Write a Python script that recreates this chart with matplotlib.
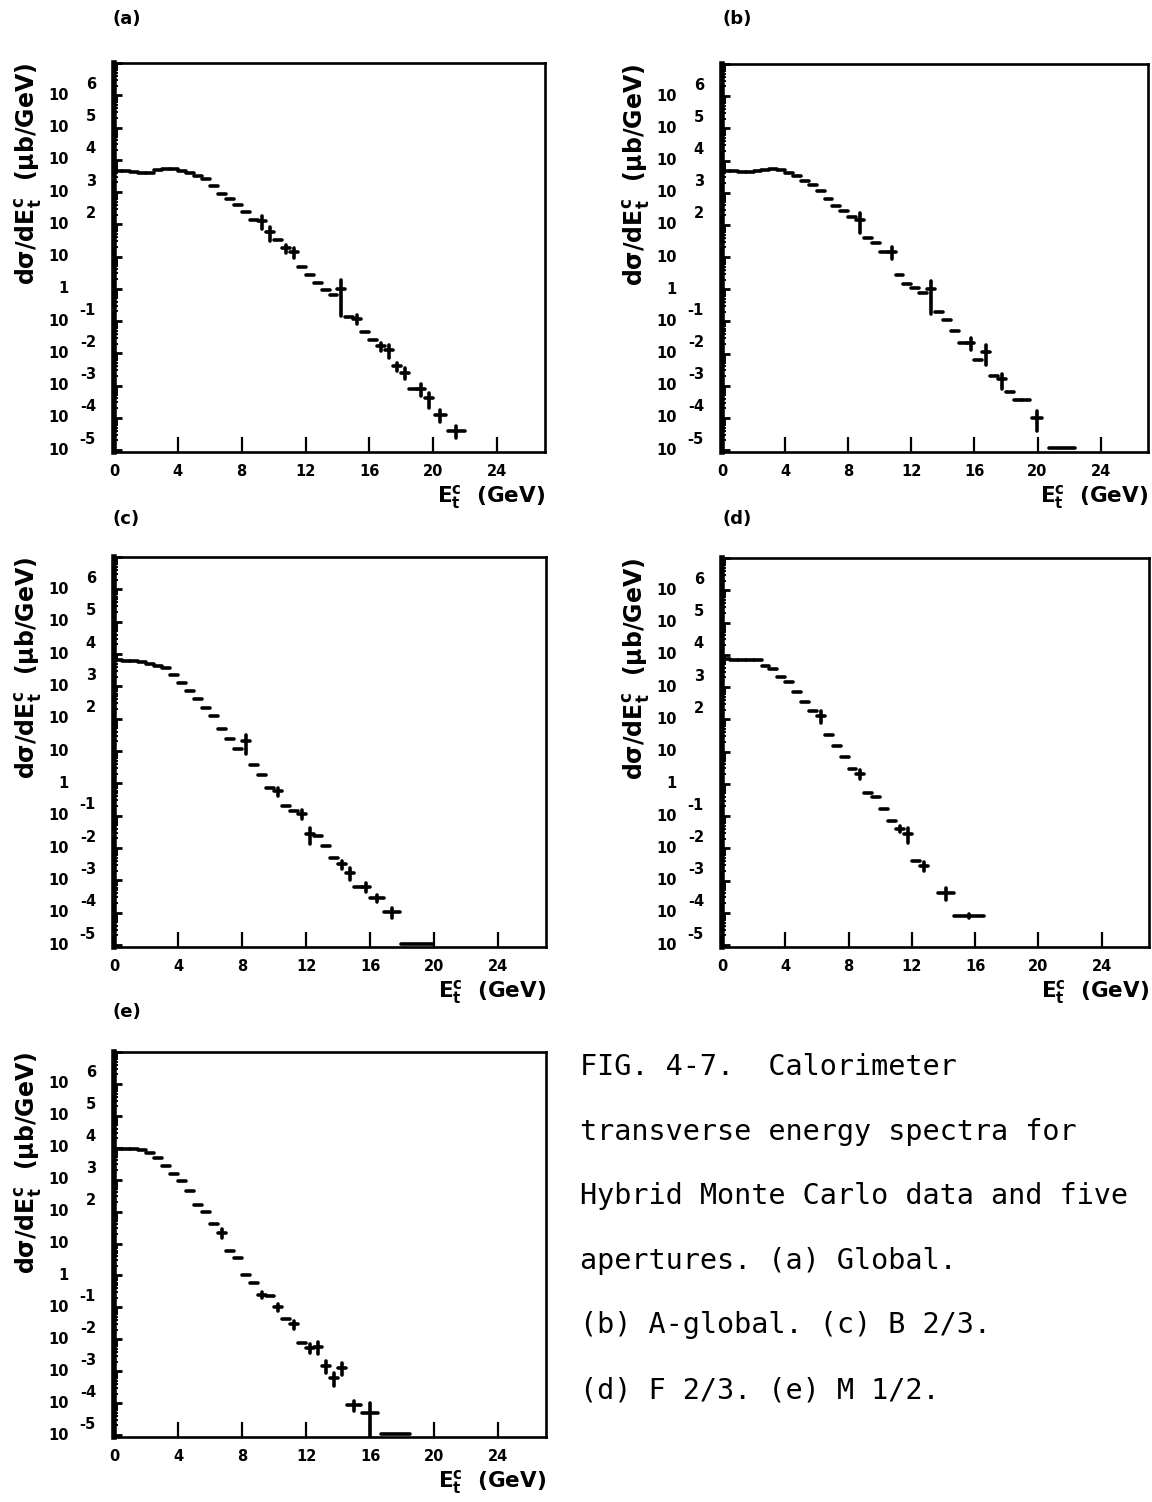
import matplotlib
matplotlib.use("Agg")
import matplotlib.pyplot as plt
from matplotlib.ticker import LogLocator, NullFormatter, FixedLocator
import numpy as np

plt.rcParams["mathtext.fontset"] = "dejavusans"
plt.rcParams["font.family"] = ["DejaVu Sans"]

# ---------------------------------------------------------------------------
# Transverse energy spectra, d(sigma)/dE_t^c in microbarn/GeV, per bin.
# E_* : bin centre (GeV), FLUX_* : bin content, REL_* : relative error,
# HALF_* : half bin width (GeV)
# ---------------------------------------------------------------------------

# (a) Global
E_A = [0.25, 0.75, 1.25, 1.75, 2.25, 2.75, 3.25, 3.75, 4.25, 4.75, 5.25, 5.75,
       6.25, 6.75, 7.25, 7.75, 8.25, 8.75, 9.25, 9.75, 10.25, 10.75, 11.25,
       11.75, 12.25, 12.75, 13.25, 13.75, 14.25, 14.75, 15.25, 15.75, 16.25,
       16.75, 17.25, 17.75, 18.25, 18.75, 19.25, 19.75, 20.45, 21.45]
FLUX_A = [4.57e3, 4.57e3, 4.17e3, 3.89e3, 3.98e3, 4.79e3, 5.25e3, 5.13e3,
          4.47e3, 3.8e3, 3.16e3, 2.51e3, 1.58e3, 891, 603, 398, 240, 132, 126,
          56.2, 31.6, 17.8, 14.1, 4.79, 2.63, 1.48, 0.912, 0.631, 1.0, 0.132,
          0.117, 0.0468, 0.0251, 0.0166, 0.0126, 3.98e-3, 2.51e-3, 7.94e-4,
          7.94e-4, 3.98e-4, 1.26e-4, 3.98e-5]
REL_A = [0, 0, 0, 0, 0, 0, 0, 0, 0, 0, 0, 0, 0, 0, 0, 0, 0, 0, 0.45, 0.45, 0,
         0.3, 0.35, 0, 0, 0, 0, 0, 0.86, 0, 0.3, 0, 0, 0.3, 0.45, 0.3, 0.35, 0,
         0.4, 0.5, 0.4, 0.4]
HALF_A = [0.25] * 40 + [0.35, 0.55]

# (b) A-global
E_B = [0.25, 0.75, 1.25, 1.75, 2.25, 2.75, 3.25, 3.75, 4.25, 4.75, 5.25, 5.75,
       6.25, 6.75, 7.25, 7.75, 8.25, 8.75, 9.25, 9.75, 10.25, 10.75, 11.25,
       11.75, 12.25, 12.75, 13.25, 13.75, 14.25, 14.75, 15.25, 15.75, 16.25,
       16.75, 17.25, 17.75, 18.25, 18.75, 19.25, 19.95, 21.55]
FLUX_B = [4.68e3, 4.57e3, 4.37e3, 4.37e3, 4.57e3, 5.25e3, 5.5e3, 5.01e3,
          4.17e3, 3.39e3, 2.24e3, 1.78e3, 1.12e3, 631, 398, 263, 178, 141,
          39.8, 28.2, 14.1, 14.8, 2.82, 1.41, 1.12, 0.759, 1.0, 0.2, 0.11,
          0.0501, 0.0214, 0.0214, 6.31e-3, 0.0112, 2.0e-3, 1.58e-3, 6.31e-4,
          3.55e-4, 3.55e-4, 1.0e-4, 1.12e-5]
REL_B = [0, 0, 0, 0, 0, 0, 0, 0, 0, 0, 0, 0, 0, 0, 0, 0, 0, 0.6, 0, 0, 0, 0.4,
         0, 0, 0, 0, 0.83, 0, 0, 0, 0, 0.4, 0, 0.6, 0, 0.5, 0, 0, 0, 0.6, 0]
HALF_B = [0.25] * 39 + [0.3, 0.85]

# (c) B 2/3
E_C = [0.25, 0.75, 1.25, 1.75, 2.25, 2.75, 3.25, 3.75, 4.25, 4.75, 5.25, 5.75,
       6.25, 6.75, 7.25, 7.75, 8.25, 8.75, 9.25, 9.75, 10.25, 10.75, 11.25,
       11.75, 12.25, 12.75, 13.25, 13.75, 14.25, 14.75, 15.25, 15.75, 16.45,
       17.4, 18.95]
FLUX_C = [6.31e3, 6.17e3, 6.03e3, 5.5e3, 5.01e3, 4.37e3, 3.63e3, 2.24e3,
          1.26e3, 708, 417, 214, 117, 49, 24, 11.2, 20, 3.63, 1.78, 0.708,
          0.562, 0.204, 0.141, 0.112, 0.0269, 0.024, 0.0115, 5.01e-3, 3.16e-3,
          1.70e-3, 6.03e-4, 6.31e-4, 2.82e-4, 1.07e-4, 1.07e-5]
REL_C = [0, 0, 0, 0, 0, 0, 0, 0, 0, 0, 0, 0, 0, 0, 0, 0, 0.6, 0, 0, 0, 0.3, 0,
         0, 0.3, 0.5, 0, 0, 0, 0.3, 0.4, 0, 0.3, 0.25, 0.35, 0]
HALF_C = [0.25] * 32 + [0.45, 0.5, 1.0]

# (d) F 2/3
E_D = [0.25, 0.75, 1.25, 1.75, 2.25, 2.75, 3.25, 3.75, 4.25, 4.75, 5.25, 5.75,
       6.25, 6.75, 7.25, 7.75, 8.25, 8.75, 9.25, 9.75, 10.25, 10.75, 11.25,
       11.75, 12.25, 12.75, 14.15, 15.6]
FLUX_D = [7.24e3, 7.08e3, 6.92e3, 6.92e3, 6.76e3, 4.47e3, 3.55e3, 2.0e3,
          1.41e3, 724, 355, 178, 126, 31.6, 14.5, 6.76, 2.95, 2.0, 0.513, 0.38,
          0.166, 0.0724, 0.0398, 0.0282, 4.07e-3, 2.82e-3, 4.17e-4, 7.94e-5]
REL_D = [0, 0, 0, 0, 0, 0, 0, 0, 0, 0, 0, 0, 0.4, 0, 0, 0, 0, 0.3, 0, 0, 0, 0,
         0.2, 0.5, 0, 0.3, 0.4, 0.15]
HALF_D = [0.25] * 26 + [0.5, 0.95]

# (e) M 1/2
E_E = [0.25, 0.75, 1.25, 1.75, 2.25, 2.75, 3.25, 3.75, 4.25, 4.75, 5.25, 5.75,
       6.25, 6.75, 7.25, 7.75, 8.25, 8.75, 9.25, 9.75, 10.25, 10.75, 11.25,
       11.75, 12.25, 12.75, 13.25, 13.75, 14.25, 15.0, 16.0, 17.6]
FLUX_E = [9.33e3, 9.33e3, 8.91e3, 8.32e3, 6.92e3, 4.79e3, 2.75e3, 1.55e3, 891,
          447, 162, 95.5, 40.7, 21.9, 5.89, 3.55, 1.07, 0.575, 0.251, 0.224,
          0.1, 0.0427, 0.0295, 7.94e-3, 5.5e-3, 5.89e-3, 1.45e-3, 6.17e-4,
          1.29e-3, 8.91e-5, 5.01e-5, 1.07e-5]
REL_E = [0, 0, 0, 0, 0, 0, 0, 0, 0, 0, 0, 0, 0, 0.3, 0, 0, 0, 0, 0.2, 0, 0.25,
         0, 0.3, 0, 0.3, 0.4, 0.4, 0.45, 0.4, 0.35, 0.97, 0]
HALF_E = [0.25] * 29 + [0.45, 0.5, 0.9]

DECADES = list(range(-5, 7))
X_TICKS = [0, 4, 8, 12, 16, 20, 24]
TAGS = ["(a)", "(b)", "(c)", "(d)", "(e)"]
CAPTION = [
    "FIG. 4-7.  Calorimeter",
    "transverse energy spectra for",
    "Hybrid Monte Carlo data and five",
    "apertures. (a) Global.",
    "(b) A-global. (c) B 2/3.",
    "(d) F 2/3. (e) M 1/2.",
]

W, H = 1152, 1502
PX = 72.0 / 100.0  # points per pixel at 100 dpi

fig = plt.figure(figsize=(W / 100, H / 100), dpi=100)


def rect(left, right, top, bottom):
    return [left / W, 1 - bottom / H, (right - left) / W, (bottom - top) / H]


LAYOUT = [
    rect(114, 545, 63, 452),
    rect(722, 1148, 64, 452),
    rect(114, 546, 557, 947),
    rect(722, 1149, 558, 947),
    rect(114, 546, 1052, 1437),
]
TAG_POS = [(113, 19), (722, 19), (113, 519), (722, 519), (113, 1012)]

SERIES = [
    (E_A, FLUX_A, REL_A, HALF_A),
    (E_B, FLUX_B, REL_B, HALF_B),
    (E_C, FLUX_C, REL_C, HALF_C),
    (E_D, FLUX_D, REL_D, HALF_D),
    (E_E, FLUX_E, REL_E, HALF_E),
]

TICK_FS = 10.5
YLABEL_FS = 17
XLABEL_FS = 15.5

for (e, flux, rel, half), box, tag, tpos in zip(SERIES, LAYOUT, TAGS, TAG_POS):
    ax = fig.add_axes(box)
    ax.set_yscale("log")
    ax.set_xlim(0, 27)
    ax.set_ylim(10 ** -5.06, 1e7)

    flux = np.asarray(flux, dtype=float)
    yerr = flux * np.asarray(rel, dtype=float)
    bars = ax.errorbar(e, flux, xerr=half, yerr=yerr, fmt="none",
                       ecolor="black", elinewidth=2.6, capsize=0)
    for coll in bars.lines[2]:
        coll.set_capstyle("round")

    # frame
    for side in ("top", "right", "bottom"):
        ax.spines[side].set_linewidth(1.9)
    ax.spines["left"].set_linewidth(4.0)

    # x axis: inward ticks, bold numbers
    ax.xaxis.set_major_locator(FixedLocator(X_TICKS))
    ax.set_xticklabels([str(t) for t in X_TICKS], fontsize=TICK_FS,
                       fontweight="bold")
    ax.tick_params(axis="x", direction="in", length=15 * PX, width=1.6,
                   pad=12 * PX, top=False)

    # y axis: inward decade and sub-decade ticks, labels drawn by hand
    ax.yaxis.set_major_locator(LogLocator(base=10, numticks=30))
    ax.yaxis.set_minor_locator(LogLocator(base=10, subs=np.arange(2, 10),
                                          numticks=30))
    ax.yaxis.set_major_formatter(NullFormatter())
    ax.yaxis.set_minor_formatter(NullFormatter())
    ax.tick_params(axis="y", which="major", direction="in", length=8 * PX,
                   width=2.0, right=False)
    ax.tick_params(axis="y", which="minor", direction="in", length=4 * PX,
                   width=1.4, right=False)

    for k in DECADES:
        base = "1" if k == 0 else "10"
        ax.annotate(base, xy=(0, 10.0 ** k), xycoords=("axes fraction", "data"),
                    xytext=(-45 * PX, 0), textcoords="offset points",
                    ha="right", va="center", fontsize=TICK_FS,
                    fontweight="bold", annotation_clip=False)
        if k not in (0, 1):
            ax.annotate(str(k), xy=(0, 10.0 ** k),
                        xycoords=("axes fraction", "data"),
                        xytext=(-18 * PX, 11 * PX), textcoords="offset points",
                        ha="right", va="center", fontsize=TICK_FS,
                        fontweight="bold", annotation_clip=False)

    ax.annotate(r"d$\mathbf{\sigma}$/dE$_\mathbf{t}^\mathbf{c}$  ($\mathbf{\mu}$b/GeV)",
                xy=(0, 1), xycoords="axes fraction",
                xytext=(-86 * PX, 0), textcoords="offset points",
                rotation=90, ha="center", va="top", fontsize=YLABEL_FS,
                fontweight="bold", annotation_clip=False)
    ax.annotate(r"E$_\mathbf{t}^\mathbf{c}$  (GeV)",
                xy=(1, 0), xycoords="axes fraction",
                xytext=(0, -45 * PX), textcoords="offset points",
                ha="right", va="center", fontsize=XLABEL_FS,
                fontweight="bold", annotation_clip=False)

    fig.text(tpos[0] / W, 1 - tpos[1] / H, tag, ha="left", va="center",
             fontsize=13, fontweight="bold")

for i, line in enumerate(CAPTION):
    fig.text(580 / W, 1 - (1067 + 64.6 * i) / H, line, ha="left", va="center",
             fontsize=20.5, family="DejaVu Sans Mono")

fig.savefig("out.png", dpi=100, facecolor="white")
